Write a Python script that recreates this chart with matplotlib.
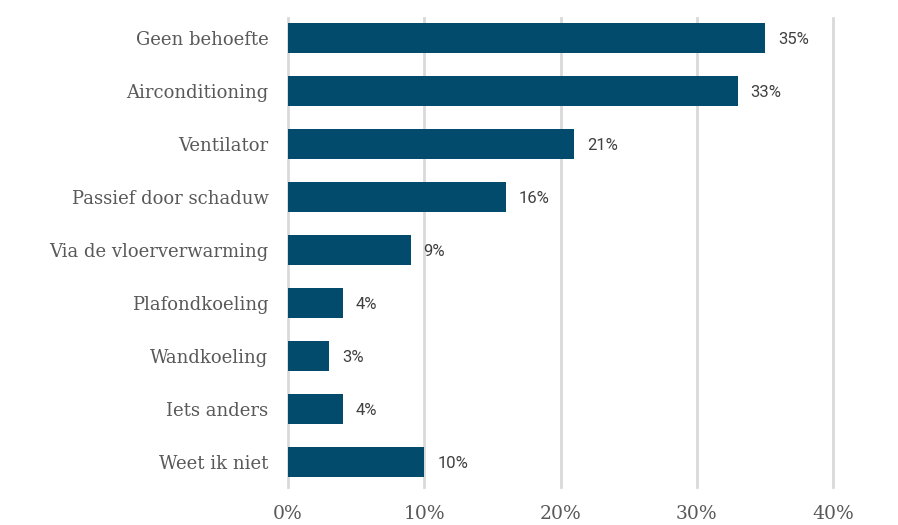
import numpy as np
import matplotlib.pyplot as plt

categories = ['Geen behoefte', 'Airconditioning', 'Ventilator', 'Passief door schaduw',
              'Via de vloerverwarming', 'Plafondkoeling', 'Wandkoeling', 'Iets anders',
              'Weet ik niet']
values = [35, 33, 21, 16, 9, 4, 3, 4, 10]
xticks = [0, 10, 20, 30, 40]

fig = plt.figure(figsize=(8.98, 5.25), dpi=100)
ax = fig.add_axes([288 / 898, 1 - 487 / 525, (833 - 288) / 898, (487 - 18) / 525])

y = np.arange(len(categories))
ax.barh(y, values, height=0.57, color='#034B6C', zorder=3)

for yi, v in zip(y, values):
    ax.text(v + 0.95, yi + 0.03, f'{v}%', va='center', ha='left',
            fontsize=12, color='#404040', family='Roboto')

ax.set_xlim(0, 40)
ax.set_ylim(8.47, -0.38)
ax.set_yticks(y)
ax.set_yticklabels(categories, family='DejaVu Serif', fontsize=13, color='#595959')
ax.set_xticks(xticks)
ax.set_xticklabels([f'{t}%' for t in xticks], family='DejaVu Serif', fontsize=13.5,
                   color='#595959')
ax.tick_params(axis='y', length=0, pad=14)
ax.tick_params(axis='x', length=0, pad=13)
ax.grid(axis='x', color='#d9d9d9', linewidth=2, zorder=0)
for gl in ax.xaxis.get_gridlines():
    gl.set_clip_on(False)
for s in ax.spines.values():
    s.set_visible(False)

fig.savefig('out.png', dpi=100)
